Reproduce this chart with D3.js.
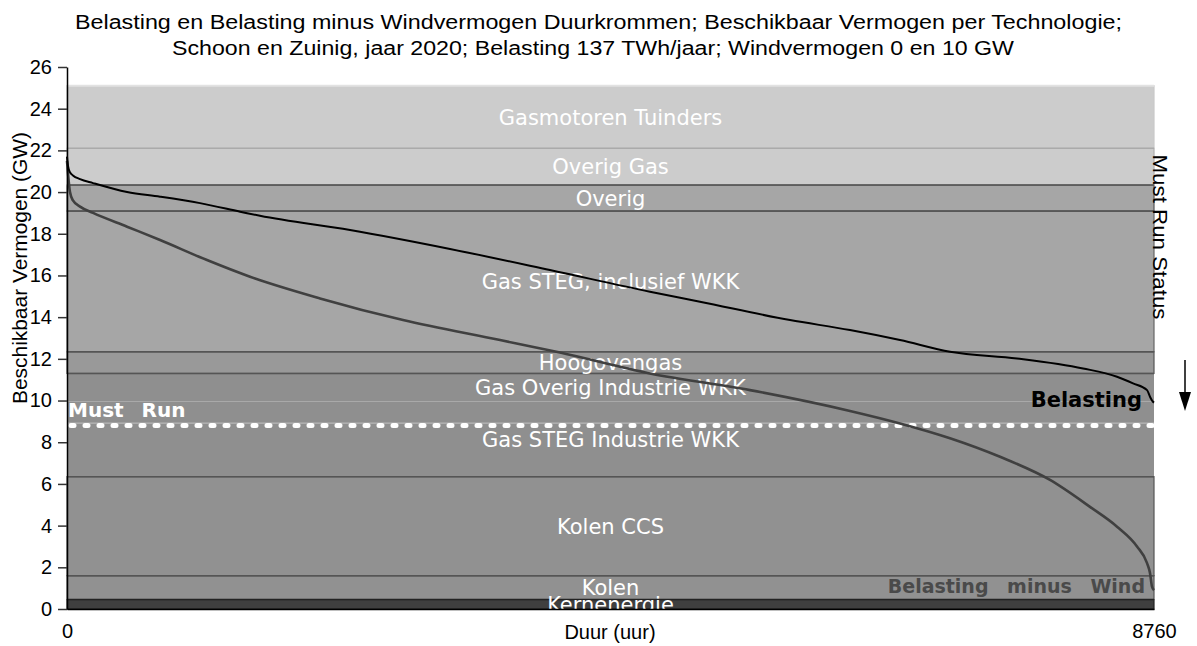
<!DOCTYPE html>
<html>
<head>
<meta charset="utf-8">
<script src="https://cdn.jsdelivr.net/npm/d3@7"></script>
<style>
  body { margin: 0; background: #fff; }
  text { font-family: "Liberation Sans", Arial, sans-serif; }
</style>
</head>
<body>
<script>
// ---------- data ----------
const titleLines = [
  "Belasting en Belasting minus Windvermogen Duurkrommen; Beschikbaar Vermogen per Technologie;",
  "Schoon en Zuinig, jaar 2020; Belasting 137 TWh/jaar; Windvermogen 0 en 10 GW"
];
const yTicks = [0, 2, 4, 6, 8, 10, 12, 14, 16, 18, 20, 22, 24, 26];
const xTicks = [0, 8760];

const bandNames = ["Kernenergie", "Kolen", "Kolen CCS", "Gas STEG Industrie WKK",
  "Gas Overig Industrie WKK", "Hoogovengas", "Gas STEG, inclusief WKK", "Overig",
  "Overig Gas", "Gasmotoren Tuinders"];
const bandLow  = [0, 0.45, 1.6, 6.35, 9.95, 11.3, 12.34, 19.09, 20.34, 22.1];
const bandHigh = [0.45, 1.6, 6.35, 9.95, 11.3, 12.34, 19.09, 20.34, 22.1, 25.1];
const boundaryValues = [0.45, 1.6, 6.35, 11.3, 12.34, 19.09, 20.34, 22.1, 25.1];

const mustRun = 8.8;

const belasting = [
  [0, 21.7], [8, 21.25], [24, 20.95], [48, 20.8], [105, 20.62], [210, 20.43],
  [484, 20.0], [750, 19.78], [1072, 19.47], [1395, 19.06], [1555, 18.86],
  [2281, 18.18], [3087, 17.27], [3892, 16.26], [4698, 15.22], [5101, 14.74],
  [5827, 13.86], [6310, 13.38], [6713, 12.9], [7116, 12.34], [7656, 12.02],
  [8188, 11.54], [8462, 11.14], [8591, 10.82], [8704, 10.5], [8728, 10.18],
  [8752, 9.94], [8760, 9.9]
];
const belastingMinusWind = [
  [0, 21.5], [8, 20.9], [24, 20.0], [48, 19.6], [105, 19.3], [210, 19.0],
  [484, 18.34], [750, 17.7], [1128, 16.74], [1475, 15.94], [2039, 14.9],
  [2708, 13.86], [3490, 12.9], [3973, 12.3], [4698, 11.3], [5504, 10.5],
  [6310, 9.5], [6713, 8.9], [7116, 8.19], [7519, 7.3], [7922, 6.19],
  [8244, 4.9], [8462, 3.95], [8623, 3.0], [8704, 2.2], [8728, 1.72],
  [8744, 1.07], [8760, 0.9]
];

// ---------- styles ----------
const bandFill   = ["#3f3f3f", "#919191", "#919191", "#8f8f8f", "#8f8f8f", "#999999", "#a6a6a6", "#a6a6a6", "#cccccc", "#cccccc"];
const bandStroke = ["#222222", "#555555", "#555555", "none", "none", "#555555", "#666666", "#555555", "#b0b0b0", "#c8c8c8"];
const boundaryColors = ["#222222", "#555555", "#555555", "#555555", "#555555", "#555555", "#4a4a4a", "#aaaaaa", "#e2e2e2"];

// ---------- chart ----------
const W = 1197, H = 646;
const svg = d3.select("body").append("svg").attr("width", W).attr("height", H);

const x = d3.scaleLinear().domain([0, 8760]).range([67, 1154]);
const y = d3.scaleLinear().domain([0, 26]).range([609, 67]);

// title
svg.append("text").attr("x", 75).attr("y", 29).attr("font-size", 20)
  .attr("textLength", 1047).attr("lengthAdjust", "spacingAndGlyphs").text(titleLines[0]);
svg.append("text").attr("x", 172).attr("y", 55).attr("font-size", 20)
  .attr("textLength", 842).attr("lengthAdjust", "spacingAndGlyphs").text(titleLines[1]);

// bands
const bands = bandNames.map((n, i) => ({ name: n, lo: bandLow[i], hi: bandHigh[i], fill: bandFill[i], stroke: bandStroke[i] }));
svg.append("g").selectAll("rect").data(bands).join("rect")
  .attr("x", x(0)).attr("width", x(8760) - x(0))
  .attr("y", d => y(d.hi)).attr("height", d => y(d.lo) - y(d.hi))
  .attr("fill", d => d.fill)
  .attr("stroke", d => d.stroke).attr("stroke-width", 1.2);

svg.append("g").selectAll("line").data(boundaryValues).join("line")
  .attr("x1", x(0)).attr("x2", x(8760))
  .attr("y1", d => y(d)).attr("y2", d => y(d))
  .attr("stroke", (d, i) => boundaryColors[i]).attr("stroke-width", (d, i) => i === 8 ? 2 : 1.5);

// band labels
svg.append("g").selectAll("text").data(bands).join("text")
  .attr("x", (x(0) + x(8760)) / 2)
  .attr("y", d => y((d.lo + d.hi) / 2))
  .attr("dy", "0.36em")
  .attr("text-anchor", "middle")
  .attr("fill", "#ffffff")
  .style("font-family", "'DejaVu Sans', sans-serif")
  .attr("font-size", 21)
  .text(d => d.name);

// must run line
svg.append("line")
  .attr("x1", x(0)).attr("x2", x(8760))
  .attr("y1", y(mustRun) - 2.5).attr("y2", y(mustRun) - 2.5)
  .attr("stroke", "#b8b8b8").attr("stroke-width", 1.2);
svg.append("line")
  .attr("x1", x(0) + 4).attr("x2", x(8760) + 4)
  .attr("y1", y(mustRun)).attr("y2", y(mustRun))
  .attr("stroke", "#ffffff").attr("stroke-width", 5)
  .attr("stroke-linecap", "round").attr("stroke-dasharray", "3,11");

svg.append("text").attr("x", 68).attr("y", y(mustRun) - 9)
  .style("font-family", "'DejaVu Sans', sans-serif").attr("font-weight", "bold")
  .attr("font-size", 20).attr("fill", "#ffffff").attr("word-spacing", 11)
  .text("Must Run");

// curves
const line = d3.line().curve(d3.curveMonotoneX).x(d => x(d[0])).y(d => y(d[1]));
svg.append("path").datum(belastingMinusWind).attr("d", line)
  .attr("fill", "none").attr("stroke", "#404040").attr("stroke-width", 2.6);
svg.append("path").datum(belasting).attr("d", line)
  .attr("fill", "none").attr("stroke", "#000000").attr("stroke-width", 2);

// curve labels
svg.append("text").attr("x", 1142).attr("y", 407).attr("text-anchor", "end")
  .style("font-family", "'DejaVu Sans', sans-serif").attr("font-weight", "bold")
  .attr("font-size", 21).attr("fill", "#000").text("Belasting");
svg.append("text").attr("x", 1145).attr("y", 593).attr("text-anchor", "end")
  .style("font-family", "'DejaVu Sans', sans-serif").attr("font-weight", "bold")
  .attr("font-size", 19).attr("fill", "#4a4a4a").attr("word-spacing", 12)
  .text("Belasting minus Wind");

// axes
const yAxis = svg.append("g").attr("transform", `translate(${x(0)},0)`)
  .call(d3.axisLeft(y).tickValues(yTicks).tickSize(9).tickPadding(6).tickSizeOuter(0));
yAxis.select(".domain").attr("stroke", "#000").attr("stroke-width", 1.5);
yAxis.selectAll(".tick line").attr("stroke", "#333").attr("stroke-width", 1.5);
yAxis.selectAll(".tick text").attr("font-size", 20).attr("fill", "#000")
  .style("font-family", "'Liberation Sans', Arial, sans-serif");

const xAxis = svg.append("g").attr("transform", `translate(0,${y(0)})`)
  .call(d3.axisBottom(x).tickValues(xTicks).tickFormat(d3.format("d")).tickSize(0).tickPadding(15).tickSizeOuter(0));
xAxis.select(".domain").attr("stroke", "#000").attr("stroke-width", 1.5);
xAxis.selectAll(".tick text").attr("font-size", 20).attr("fill", "#000")
  .style("font-family", "'Liberation Sans', Arial, sans-serif");

// axis titles
svg.append("text").attr("x", 610).attr("y", 639).attr("text-anchor", "middle")
  .attr("font-size", 20).text("Duur (uur)");
svg.append("text").attr("transform", "translate(27,268) rotate(-90)")
  .attr("text-anchor", "middle").attr("font-size", 21)
  .attr("textLength", 272).attr("lengthAdjust", "spacingAndGlyphs").text("Beschikbaar Vermogen (GW)");
svg.append("text").attr("transform", "translate(1153,237) rotate(90)")
  .attr("text-anchor", "middle").attr("font-size", 20)
  .attr("textLength", 165).attr("lengthAdjust", "spacingAndGlyphs").text("Must Run Status");

// arrow
svg.append("line").attr("x1", 1185).attr("x2", 1185).attr("y1", 360).attr("y2", 395)
  .attr("stroke", "#000").attr("stroke-width", 1.5);
svg.append("path").attr("d", "M1179,392 L1191,392 L1185,411 Z").attr("fill", "#000");
</script>
</body>
</html>
